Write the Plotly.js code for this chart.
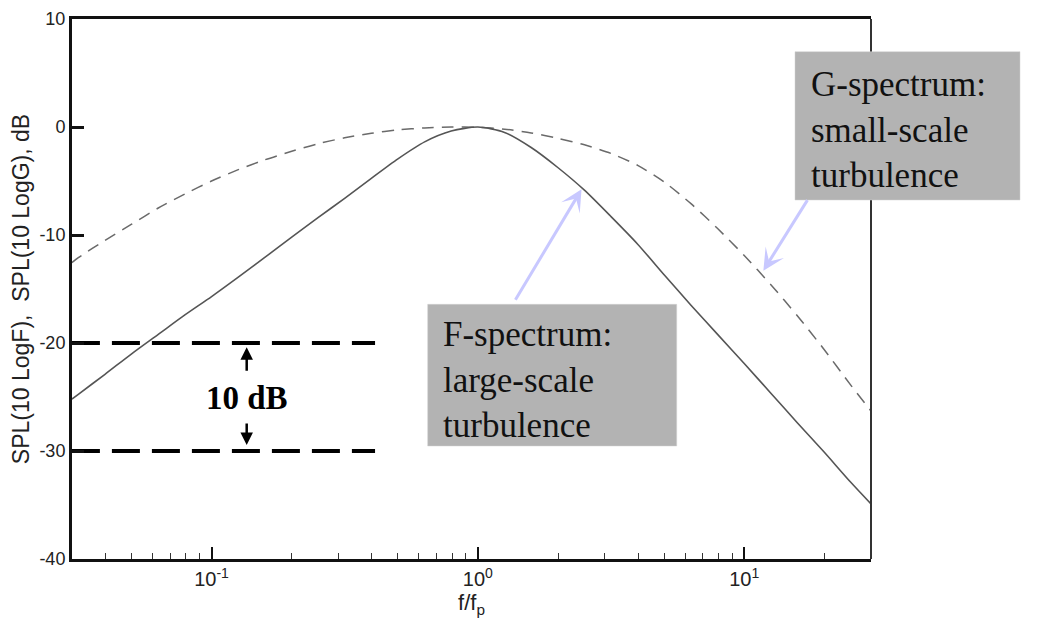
<!DOCTYPE html>
<html>
<head>
<meta charset="utf-8">
<script src="https://cdn.plot.ly/plotly-3.0.1.min.js"></script>
<style>html,body{margin:0;padding:0;background:#fff;}</style>
</head>
<body>
<div id="chart" style="width:1042px;height:623px;"></div>
<script>
// frequency ratio f/fp where the curves were read
const freq = [0.0299, 0.0316, 0.0398, 0.0501, 0.0631, 0.0794, 0.1, 0.126, 0.158, 0.2, 0.251, 0.316, 0.398, 0.501, 0.631, 0.794,
              1, 1.259, 1.585, 1.995, 2.512, 3.162, 3.981, 5.012, 6.31, 7.943, 10, 12.59, 15.85, 19.95, 25.12, 29.92];
// F-spectrum (large-scale turbulence), SPL dB
const fSpl = [-25.2, -24.75, -22.9, -21.0, -19.2, -17.4, -15.7, -13.9, -12.1, -10.2, -8.4, -6.6, -4.75, -2.95, -1.38, -0.38,
              0, -0.5, -1.9, -3.75, -5.85, -8.3, -10.85, -13.7, -16.5, -19.2, -21.9, -24.65, -27.4, -30.1, -32.9, -34.9];
// G-spectrum (small-scale turbulence), SPL dB
const gSpl = [-12.56, -12.1, -10.5, -9.0, -7.5, -6.2, -5.0, -3.95, -3.05, -2.25, -1.55, -1.0, -0.58, -0.27, -0.09, 0,
              -0.03, -0.2, -0.55, -1.05, -1.65, -2.45, -3.55, -5.1, -7.1, -9.4, -11.9, -14.6, -17.5, -20.6, -23.9, -26.3];
// 10 dB reference lines
const refX = [0.0299, 0.411];
const refLevels = [-20, -30];
const refLabel = '10 dB';
// tick labels
const xTickVals = [0.1, 1, 10];
const xTickText = ['10<sup>-1</sup>', '10<sup>0</sup>', '10<sup>1</sup>'];
const yTickVals = [-40, -30, -20, -10, 0, 10];
const yTickText = ['-40', '-30', '-20', '-10', '0', '10'];
const fLabel = 'F-spectrum:<br>large-scale<br>turbulence';
const gLabel = 'G-spectrum:<br>small-scale<br>turbulence';
const xTitle = 'f/f<sub>p</sub>';
const yTitle = 'SPL(10 LogF),  SPL(10 LogG), dB';

const sans = 'Liberation Sans, Arial, Helvetica, sans-serif';
const serif = 'Liberation Serif, Times New Roman, serif';

const traces = [
  {x: freq, y: gSpl, mode: 'lines', line: {color: '#6a6a6a', width: 1.5, dash: '12px,8px', shape: 'spline', smoothing: 0.7}, hoverinfo: 'skip'},
  {x: freq, y: fSpl, mode: 'lines', line: {color: '#555', width: 1.6, shape: 'spline', smoothing: 0.7}, hoverinfo: 'skip'}
];
refLevels.forEach(v => {
  traces.push({x: refX, y: [v, v], mode: 'lines', line: {color: '#000', width: 4, dash: '28px,12px'}, hoverinfo: 'skip'});
});

// frame of the reference in pixels
const L = 72, T = 19, W = 799, H = 540;
const px = p => (p - L) / W;
const py = p => (T + H - p) / H;

const layout = {
  width: 1042, height: 623,
  margin: {l: L, r: 1042 - L - W, t: T, b: 623 - T - H},
  paper_bgcolor: '#fff', plot_bgcolor: '#fff',
  showlegend: false,
  xaxis: {
    type: 'log', range: [-1.524, 1.476],
    showline: true, linewidth: 3, linecolor: '#111', mirror: true,
    ticks: 'inside', ticklen: 12, tickwidth: 2, tickcolor: '#111',
    tickmode: 'array', tickvals: xTickVals, ticktext: xTickText,
    showgrid: false, zeroline: false,
    tickfont: {family: sans, size: 20, color: '#222'},
    minor: {ticks: 'inside', ticklen: 6, tickwidth: 1, tickcolor: '#333', dtick: 'D1', showgrid: false},
    title: {text: xTitle, font: {family: sans, size: 22, color: '#222'}, standoff: 2}
  },
  yaxis: {
    range: [-40, 10],
    tickmode: 'array', tickvals: yTickVals, ticktext: yTickText,
    showline: true, linewidth: 3, linecolor: '#111', mirror: false,
    ticks: 'inside', ticklen: 12, tickwidth: 3, tickcolor: '#111',
    showgrid: false, zeroline: false,
    tickfont: {family: sans, size: 18, color: '#222'},
    title: {text: yTitle, font: {family: sans, size: 23, color: '#222'}, standoff: 4}
  },
  shapes: [
    // right frame edge (thinner than the others)
    {type: 'line', xref: 'paper', yref: 'paper', x0: 1, x1: 1, y0: 0, y1: 1, line: {width: 2, color: '#333'}, layer: 'above'},
    {type: 'rect', xref: 'paper', yref: 'paper', x0: px(427.7), x1: px(676.7), y0: py(446), y1: py(304.3),
     fillcolor: '#b3b3b3', line: {width: 0.5, color: '#d0d0d0'}, layer: 'above'},
    {type: 'rect', xref: 'paper', yref: 'paper', x0: px(795), x1: px(1020), y0: py(200), y1: py(51.7),
     fillcolor: '#b3b3b3', line: {width: 0.5, color: '#d0d0d0'}, layer: 'above'}
  ],
  annotations: [
    {xref: 'paper', yref: 'paper', x: px(441), y: py(380), xanchor: 'left', yanchor: 'middle', align: 'left',
     text: fLabel, showarrow: false, font: {family: serif, size: 35, color: '#111'}},
    {xref: 'paper', yref: 'paper', x: px(809), y: py(130), xanchor: 'left', yanchor: 'middle', align: 'left',
     text: gLabel, showarrow: false, font: {family: serif, size: 35, color: '#111'}},
    // pointer arrows
    {xref: 'x', yref: 'y', x: Math.log10(2.45), y: -5.77, ax: -67, ay: 112, text: '', showarrow: true,
     arrowhead: 3, arrowsize: 1.2, arrowwidth: 3, arrowcolor: '#c8c8ff'},
    {xref: 'x', yref: 'y', x: Math.log10(11.8), y: -13.3, ax: 45, ay: -72, text: '', showarrow: true,
     arrowhead: 3, arrowsize: 1.2, arrowwidth: 3, arrowcolor: '#c8c8ff'},
    // 10 dB markers
    {xref: 'x', yref: 'y', x: Math.log10(0.1355), y: -20.4, ax: 0, ay: 25, text: '', showarrow: true,
     arrowhead: 2, arrowsize: 1, arrowwidth: 2.5, arrowcolor: '#000'},
    {xref: 'x', yref: 'y', x: Math.log10(0.1355), y: -29.45, ax: 0, ay: -23, text: '', showarrow: true,
     arrowhead: 2, arrowsize: 1, arrowwidth: 2.5, arrowcolor: '#000'},
    {xref: 'x', yref: 'y', x: Math.log10(0.1355), y: -25.1, text: '<b>' + refLabel + '</b>', showarrow: false,
     font: {family: serif, size: 33, color: '#000'}}
  ]
};

Plotly.newPlot('chart', traces, layout, {displayModeBar: false, staticPlot: true});
</script>
</body>
</html>
